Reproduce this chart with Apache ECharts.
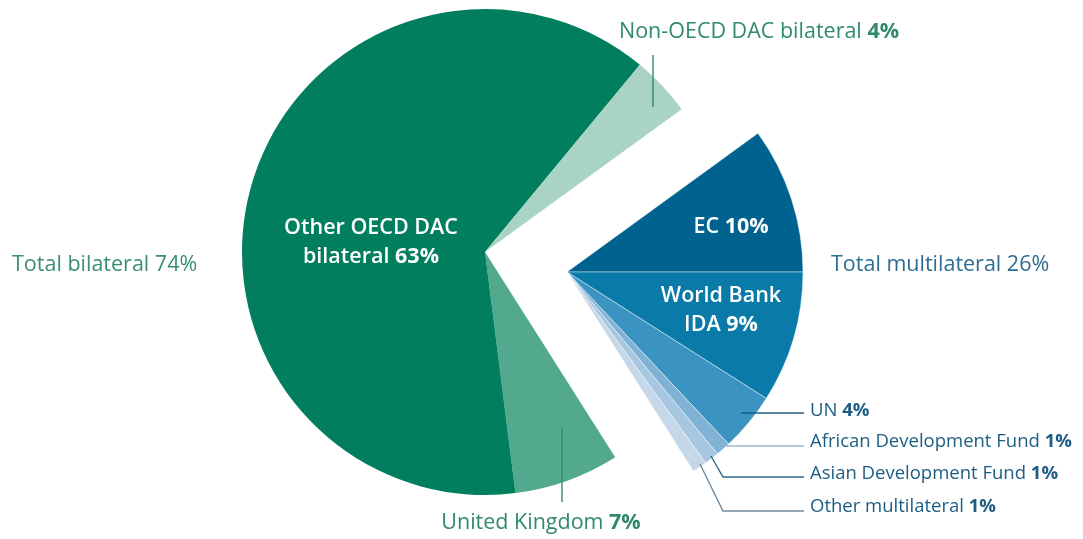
<!DOCTYPE html>
<html>
<head>
<meta charset="utf-8">
<script src="https://cdn.jsdelivr.net/npm/echarts@6/dist/echarts.min.js"></script>
<style>
html,body{margin:0;padding:0;background:#fff;}
#chart{width:1083px;height:539px;}
</style>
</head>
<body>
<div id="chart"></div>
<script>
// ---- data ----
const categories = ['EC', 'World Bank IDA', 'UN', 'African Development Fund', 'Asian Development Fund', 'Other multilateral', 'United Kingdom', 'Other OECD DAC bilateral', 'Non-OECD DAC bilateral'];
const labelTexts = ['EC', 'World Bank\nIDA', 'UN', 'African Development Fund', 'Asian Development Fund', 'Other multilateral', 'United Kingdom', 'Other OECD DAC\nbilateral', 'Non-OECD DAC bilateral'];
const values = [10, 9, 4, 1, 1, 1, 7, 63, 4];
const groups = ['multilateral', 'multilateral', 'multilateral', 'multilateral', 'multilateral', 'multilateral', 'bilateral', 'bilateral', 'bilateral'];
const groupNames = ['Total bilateral', 'Total multilateral'];
const sliceColors = ['#00628f', '#0a7aa8', '#3a93c1', '#7fb2d5', '#a6c7df', '#c4d8e9', '#52a98e', '#017e5e', '#a9d3c4'];

const FONT = '"Open Sans", "Noto Sans", sans-serif';
const GREEN_TXT = '#2f8a6d';
const BLUE_TXT = '#1d5d84';

// label placement (layout only)
const insideLabels = {
  'Other OECD DAC bilateral': [371, 242],
  'EC': [731, 227],
  'World Bank IDA': [721, 310]
};
const outsideLabels = {
  'Non-OECD DAC bilateral': {x: 619, y: 32, align: 'left', line: [[653, 107], [653, 55]], color: '#2f8a6d'},
  'United Kingdom': {x: 541, y: 523, align: 'center', line: [[562, 428], [562, 502]], color: '#2f8a6d'},
  'UN': {x: 810, y: 411, align: 'left', line: [[741, 413], [804, 413]], color: '#1d5d84'},
  'African Development Fund': {x: 810, y: 442, align: 'left', line: [[726, 446], [804, 446]], color: '#9db8cd'},
  'Asian Development Fund': {x: 810, y: 474, align: 'left', line: [[711, 456], [723, 477], [804, 477]], color: '#2b6b8f'},
  'Other multilateral': {x: 810, y: 507, align: 'left', line: [[700, 464], [723, 511], [804, 511]], color: '#6f8aa0'}
};

function sum(g) {
  return values.reduce((s, v, i) => s + (groups[i] === g ? v : 0), 0);
}

const BIG = 21.5;
const SMALL = 18.5;

// slices of one group (the others are transparent placeholders)
function sliceSeries(group, center, radius) {
  return {
    type: 'pie',
    center: center,
    radius: radius,
    startAngle: 36,
    clockwise: true,
    silent: true,
    animation: false,
    z: 2,
    emphasis: {disabled: true},
    label: {show: false},
    labelLine: {show: false},
    data: categories.map((name, i) => {
      const mine = groups[i] === group;
      return {
        name: name,
        value: values[i],
        itemStyle: mine ? {
          color: sliceColors[i],
          borderColor: group === 'multilateral' ? 'rgba(255,255,255,0.55)' : sliceColors[i],
          borderWidth: group === 'multilateral' ? 0.8 : 0
        } : {color: 'rgba(0,0,0,0)', borderWidth: 0}
      };
    })
  };
}

// labels + leader lines, drawn above all slices
function labelSeries() {
  return {
    type: 'pie',
    center: [485, 252],
    radius: 243,
    startAngle: 36,
    clockwise: true,
    silent: true,
    animation: false,
    z: 5,
    avoidLabelOverlap: false,
    emphasis: {disabled: true},
    data: categories.map((name, i) => {
      const inside = !!insideLabels[name];
      const ol = outsideLabels[name];
      const group = groups[i];
      const txtColor = group === 'bilateral' ? GREEN_TXT : BLUE_TXT;
      return {
        name: name,
        value: values[i],
        itemStyle: {color: 'rgba(0,0,0,0)', borderWidth: 0},
        label: {
          show: true,
          position: inside ? 'inside' : 'outside',
          formatter: () => {
            const lines = labelTexts[i].split('\n');
            const last = lines.pop();
            const tk = inside ? 'w' : (group === 'bilateral' ? 'g' : 's');
            const bk = inside ? 'wb' : (group === 'bilateral' ? 'gb' : 'sb');
            const head = lines.map(l => '{' + tk + '|' + l + '}').join('\n');
            return (head ? head + '\n' : '') + '{' + tk + '|' + last + ' }{' + bk + '|' + values[i] + '%}';
          },
          rich: {
            w: {color: '#fff', fontSize: BIG, fontWeight: 600, fontFamily: FONT, lineHeight: 29},
            wb: {color: '#fff', fontSize: BIG, fontWeight: 'bold', fontFamily: FONT, lineHeight: 29},
            g: {color: txtColor, fontSize: BIG, fontFamily: FONT, lineHeight: 26},
            gb: {color: txtColor, fontSize: BIG, fontWeight: 'bold', fontFamily: FONT, lineHeight: 26},
            s: {color: txtColor, fontSize: SMALL, fontFamily: FONT, lineHeight: 22},
            sb: {color: txtColor, fontSize: SMALL, fontWeight: 'bold', fontFamily: FONT, lineHeight: 22}
          }
        },
        labelLine: {
          show: !inside,
          lineStyle: {color: ol ? ol.color : txtColor, width: 1.4}
        }
      };
    }),
    labelLayout: function (params) {
      const name = categories[params.dataIndex];
      if (insideLabels[name]) {
        const p = insideLabels[name];
        return {x: p[0], y: p[1], align: 'center', verticalAlign: 'middle'};
      }
      const o = outsideLabels[name];
      if (o) {
        return {x: o.x, y: o.y, align: o.align, verticalAlign: 'middle', labelLinePoints: o.line};
      }
      return {};
    }
  };
}

const chart = echarts.init(document.getElementById('chart'), null, {renderer: 'canvas'});
chart.setOption({
  backgroundColor: '#fff',
  animation: false,
  graphic: [
    {type: 'text', left: 12, top: 254, style: {text: groupNames[0] + ' ' + sum('bilateral') + '%', fill: '#3a8f73', font: BIG + 'px ' + FONT}},
    {type: 'text', left: 831, top: 254, style: {text: groupNames[1] + ' ' + sum('multilateral') + '%', fill: '#2d6d92', font: BIG + 'px ' + FONT}}
  ],
  series: [
    sliceSeries('bilateral', [485, 252], 243),
    sliceSeries('multilateral', [567, 272], 236),
    labelSeries()
  ]
});
</script>
</body>
</html>
